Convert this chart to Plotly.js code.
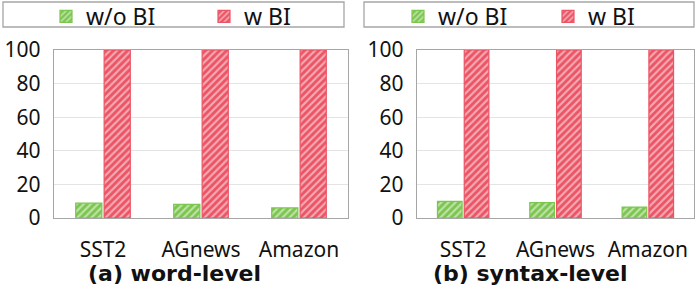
<!DOCTYPE html>
<html><head><meta charset="utf-8">
<script src="https://cdn.plot.ly/plotly-3.0.1.min.js"></script>
<style>body{margin:0;padding:0;}#chart{width:698px;height:291px;}</style>
</head><body><div id="chart"></div>
<script>
const categories = ['SST2', 'AGnews', 'Amazon'];
const seriesNames = ['w/o BI', 'w BI'];
const wordWoBI = [8.8, 8.1, 6.0];
const wordWBI = [100, 100, 100];
const syntaxWoBI = [9.9, 9.1, 6.5];
const syntaxWBI = [100, 100, 100];
const yTicks = [0, 20, 40, 60, 80, 100];
const panelTitles = ['(a) word-level', '(b) syntax-level'];

const GREEN = '#7CC54F';
const RED = '#EB5465';
const FONT = 'Noto Sans, Open Sans, sans-serif';

function bar(name, y, color, xa, ya, leg) {
  return {
    type: 'bar', name: name, x: categories, y: y, xaxis: xa, yaxis: ya,
    legend: leg,
    marker: {
      color: color,
      line: {color: color, width: 1.2},
      pattern: {shape: '/', fgcolor: '#ffffff', bgcolor: color, fillmode: 'overlay', size: 5, solidity: 0.42}
    }
  };
}

const data = [
  bar(seriesNames[0], wordWoBI, GREEN, 'x', 'y', 'legend'),
  bar(seriesNames[1], wordWBI, RED, 'x', 'y', 'legend'),
  bar(seriesNames[0], syntaxWoBI, GREEN, 'x2', 'y2', 'legend2'),
  bar(seriesNames[1], syntaxWBI, RED, 'x2', 'y2', 'legend2')
];

const W = 698, H = 291;
function fx(p) { return p / W; }
function fy(p) { return 1 - p / H; }

const yaxisCommon = {
  range: [0, 100], tickvals: yTicks, ticks: '', showgrid: true, gridcolor: '#e4e4e4', gridwidth: 1,
  showline: true, linecolor: '#a6a6a6', linewidth: 1.3, mirror: true, zeroline: false, automargin: false,
  tickfont: {family: FONT, size: 21, color: '#111'}, ticklabelstandoff: 8, fixedrange: true
};
const xaxisCommon = {
  showline: true, linecolor: '#a6a6a6', linewidth: 1.3, mirror: true, ticks: '', automargin: false, tickangle: 0,
  tickfont: {family: FONT, size: 21, color: '#111'}, ticklabelstandoff: 12, fixedrange: true
};

const legendCommon = {
  orientation: 'h', font: {family: FONT, size: 23, color: '#111'},
  bgcolor: 'rgba(0,0,0,0)', borderwidth: 0, xanchor: 'left', yanchor: 'top',
  entrywidthmode: 'pixels', itemclick: false, itemdoubleclick: false
};

const layout = {
  width: W, height: H, margin: {l: 0, r: 0, t: 0, b: 0, autoexpand: false},
  paper_bgcolor: '#fff', plot_bgcolor: '#fff',
  barmode: 'group', bargap: 0.42, bargroupgap: 0.08,
  xaxis: Object.assign({domain: [fx(54), fx(348)], anchor: 'y'}, xaxisCommon),
  yaxis: Object.assign({domain: [fy(218), fy(50)], anchor: 'x'}, yaxisCommon),
  xaxis2: Object.assign({domain: [fx(417), fx(694)], anchor: 'y2'}, xaxisCommon),
  yaxis2: Object.assign({domain: [fy(218), fy(50)], anchor: 'x2'}, yaxisCommon),
  legend: Object.assign({x: fx(46), y: fy(-5), entrywidth: 113}, legendCommon),
  legend2: Object.assign({x: fx(398), y: fy(-5), entrywidth: 105}, legendCommon),
  shapes: [
    {type: 'rect', xref: 'paper', yref: 'paper', x0: fx(3), x1: fx(344), y0: fy(27), y1: fy(2), line: {color: '#a6a6a6', width: 1.3}},
    {type: 'rect', xref: 'paper', yref: 'paper', x0: fx(364), x1: fx(694), y0: fy(27), y1: fy(2), line: {color: '#a6a6a6', width: 1.3}}
  ],
  annotations: [
    {text: '<b>' + panelTitles[0] + '</b>', xref: 'paper', yref: 'paper', x: fx(174), y: fy(273), xanchor: 'center', yanchor: 'middle', showarrow: false, font: {family: 'DejaVu Sans, sans-serif', size: 22, color: '#111'}},
    {text: '<b>' + panelTitles[1] + '</b>', xref: 'paper', yref: 'paper', x: fx(530), y: fy(273), xanchor: 'center', yanchor: 'middle', showarrow: false, font: {family: 'DejaVu Sans, sans-serif', size: 22, color: '#111'}}
  ]
};

Plotly.newPlot('chart', data, layout, {displayModeBar: false, staticPlot: true});
</script></body></html>
